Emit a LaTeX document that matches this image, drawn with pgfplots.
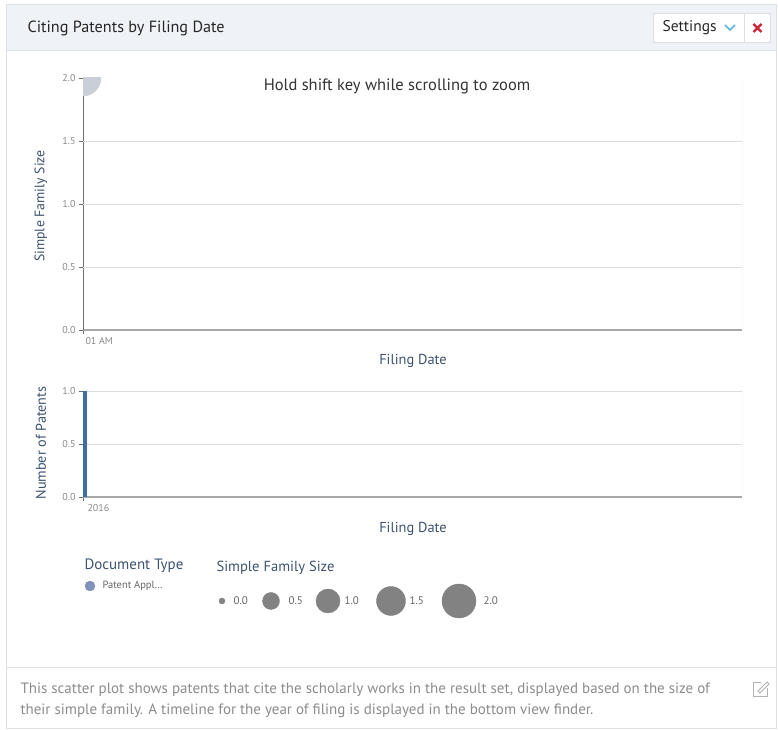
\documentclass[border=0pt]{standalone}
\usepackage{pgfplots}
\pgfplotsset{compat=1.18}
\usepackage{fontspec}
\setmainfont{PT Sans}
\definecolor{framec}{HTML}{DDE1E6}
\definecolor{headbg}{HTML}{EFF2F6}
\definecolor{btnc}{HTML}{DADDE2}
\definecolor{chev}{HTML}{5BB5E0}
\definecolor{xred}{HTML}{D0243A}
\definecolor{gridc}{HTML}{DCDCDC}
\definecolor{axdark}{HTML}{6E6E6E}
\definecolor{axbot}{HTML}{A8A8A8}
\definecolor{tickc}{HTML}{8A8A8A}
\definecolor{labc}{HTML}{3D5370}
\definecolor{bubc}{HTML}{C9CED7}
\definecolor{barc}{HTML}{3F6DA6}
\definecolor{legc}{HTML}{828282}
\definecolor{docc}{HTML}{8291BA}
\definecolor{footc}{HTML}{8C8C8C}
\pgfplotsset{
  common/.style={
    scale only axis,
    xmin=0, xmax=100,
    axis x line*=bottom, axis y line*=left,
    x axis line style={axbot, line width=1.6pt, -},
    y axis line style={axdark, line width=0.8pt, -},
    tick align=outside,
    major tick length=4pt,
    tick style={axdark, line width=0.6pt},
    ticklabel style={font=\fontsize{10}{11}\selectfont, text=tickc},
    /pgf/number format/assume math mode=true,
    yticklabel style={/pgf/number format/fixed, /pgf/number format/precision=1, /pgf/number format/fixed zerofill},
    xticklabel style={anchor=north west},
    clip marker paths=true,
  },
  bub/.style={only marks, mark=*, mark size=#1, color=legc, mark options={draw=none, fill=legc}},
}
\begin{document}
\begin{tikzpicture}
\begin{scope}[x=1pt,y=1pt]
\fill[white] (0,0) rectangle (778,728);
% card
\draw[framec, line width=1pt, fill=white] (6,-1) rectangle (776,723);
\fill[headbg] (6.5,678) rectangle (775.5,722.5);
\draw[framec] (6,678) -- (776,678);
\node[anchor=west, font=\fontsize{16.2}{17}\selectfont, text=black!85] at (24,700) {Citing Patents by Filing Date};
% settings button
\draw[btnc, fill=white] (653,686) rectangle (744,715);
\draw[btnc, fill=white] (744,686) rectangle (770,715);
\node[anchor=west, font=\fontsize{15.5}{16}\selectfont, text=black!85] at (659,700) {Settings};
\draw[chev, line width=1.6pt] (725,703) -- (730,698) -- (735,703);
\draw[xred, line width=2.2pt] (753.5,696) -- (761.5,704) (753.5,704) -- (761.5,696);
\end{scope}

% top scatter axis
\begin{axis}[common, at={(83pt,398pt)}, anchor=south west, width=659pt, height=252pt,
  ymin=0, ymax=2, ytick={0,0.5,1,1.5,2},
  xtick={0}, xticklabels={01 AM}, xticklabel style={xshift=-1pt}]
  \draw[gridc] (axis cs:0,0.5) -- (axis cs:100,0.5);
  \draw[gridc] (axis cs:0,1) -- (axis cs:100,1);
  \draw[gridc] (axis cs:0,1.5) -- (axis cs:100,1.5);
  \draw[gridc] (rel axis cs:1,0) -- (rel axis cs:1,1);
  \addplot[only marks, mark=*, mark size=18pt, color=bubc, mark options={draw=none, fill=bubc}] coordinates {(0,2)};
\end{axis}

% bottom timeline axis
\begin{axis}[common, at={(83pt,231pt)}, anchor=south west, width=659pt, height=106pt,
  ymin=0, ymax=1, ytick={0,0.5,1},
  xtick={0}, xticklabels={2016}, xticklabel style={xshift=1pt}]
  \draw[gridc] (axis cs:0,0.5) -- (axis cs:100,0.5);
  \draw[gridc] (rel axis cs:0,1) -- (rel axis cs:1,1) -- (rel axis cs:1,0);
  \addplot[ybar, bar width=3.5pt, bar shift=1.75pt, fill=barc, draw=none] coordinates {(0,1)};
\end{axis}

% legend circles
\begin{axis}[at={(0pt,0pt)}, anchor=south west, width=778pt, height=728pt, scale only axis,
  xmin=0, xmax=778, ymin=0, ymax=728, hide axis, clip=false]
  \addplot[only marks, mark=*, mark size=5pt, color=docc, mark options={draw=none, fill=docc}] coordinates {(90,142)};
  \addplot[bub=3pt] coordinates {(222,127)};
  \addplot[bub=8.5pt] coordinates {(271,127)};
  \addplot[bub=12pt] coordinates {(328,127)};
  \addplot[bub=14.5pt] coordinates {(391,127)};
  \addplot[bub=17pt] coordinates {(459,127)};
\end{axis}

\begin{scope}[x=1pt,y=1pt]
\node[font=\fontsize{16.5}{17}\selectfont, text=black!80] at (397,642) {Hold shift key while scrolling to zoom};
\node[font=\fontsize{14.4}{15}\selectfont, text=labc] at (413,367) {Filing Date};
\node[rotate=90, font=\fontsize{13.8}{14}\selectfont, text=labc] at (41,522) {Simple Family Size};
\node[font=\fontsize{14.4}{15}\selectfont, text=labc] at (413,199) {Filing Date};
\node[rotate=90, font=\fontsize{14.2}{15}\selectfont, text=labc] at (41,285) {Number of Patents};
% legend text
\node[anchor=west, font=\fontsize{15}{16}\selectfont, text=labc] at (81,162) {Document Type};
\node[anchor=west, font=\fontsize{10.5}{11}\selectfont, text=black!60] at (99,142) {Patent Appl\dots};
\node[anchor=west, font=\fontsize{14.6}{15}\selectfont, text=labc] at (213,160) {Simple Family Size};
\foreach \xx/\tt in {230/0.0, 285/0.5, 341/1.0, 406/1.5, 480/2.0}
  \node[anchor=west, font=\fontsize{11}{12}\selectfont, text=black!60] at (\xx,127) {\tt};
% footer
\draw[framec] (6,61) -- (776,61);
\node[anchor=west, font=\fontsize{15}{16}\selectfont, text=footc] at (17,38) {This scatter plot shows patents that cite the scholarly works in the result set, displayed based on the size of};
\node[anchor=west, font=\fontsize{15}{16}\selectfont, text=footc] at (17,17) {their simple family. A timeline for the year of filing is displayed in the bottom view finder.};
% edit icon
\draw[black!30, line width=0.9pt] (761,46) -- (753,46) -- (753,32) -- (767,32) -- (767,40);
\draw[black!30, line width=0.9pt] (758,37) -- (767,46) -- (769,44) -- (760,35) -- cycle;
\end{scope}
\end{tikzpicture}
\end{document}
